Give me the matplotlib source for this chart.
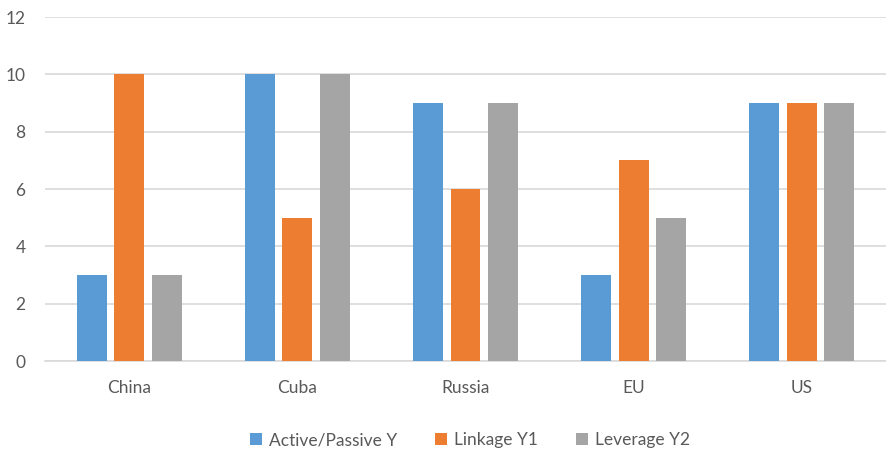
import matplotlib
matplotlib.use("Agg")
import matplotlib.pyplot as plt
import numpy as np

categories = ["China", "Cuba", "Russia", "EU", "US"]
series_names = ["Active/Passive Y", "Linkage Y1", "Leverage Y2"]
active_passive = [3, 10, 9, 3, 9]
linkage = [10, 5, 6, 7, 9]
leverage = [3, 10, 9, 5, 9]
colors = ["#5B9BD5", "#ED7D31", "#A5A5A5"]

plt.rcParams['font.family'] = ['Lato', 'DejaVu Sans']

fig = plt.figure(figsize=(8.86, 4.54), dpi=100)
ax = fig.add_axes([45/886, 1-361/454, 841/886, (361-17)/454])

x = np.arange(len(categories))
w = 0.178
step = 0.223
for i, (vals, name, c) in enumerate(zip([active_passive, linkage, leverage], series_names, colors)):
    ax.bar(x + (i-1)*step, vals, width=w, color=c, label=name, zorder=3)

ax.set_xlim(-0.5, len(categories)-0.5)
ax.set_ylim(0, 12)
ax.set_yticks(range(0, 13, 2))
ax.set_xticks(x)
ax.set_xticklabels(categories)
ax.grid(axis='y', color='#D9D9D9', linewidth=1.2, zorder=0)
for s in ['top', 'right', 'left']:
    ax.spines[s].set_visible(False)
ax.spines['bottom'].set_color('#D9D9D9')
ax.spines['bottom'].set_linewidth(1.2)
ax.tick_params(axis='both', length=0, labelsize=12.5, colors='#595959')
ax.tick_params(axis='x', pad=14)
ax.tick_params(axis='y', pad=14)

leg = fig.legend(loc='center', bbox_to_anchor=(470/886, 1-440/454), ncol=3, frameon=False,
                 fontsize=12.5, handlelength=0.7, handleheight=0.7, handletextpad=0.4,
                 columnspacing=2.2)
for t in leg.get_texts():
    t.set_color('#595959')

fig.savefig("out.png", dpi=100)
